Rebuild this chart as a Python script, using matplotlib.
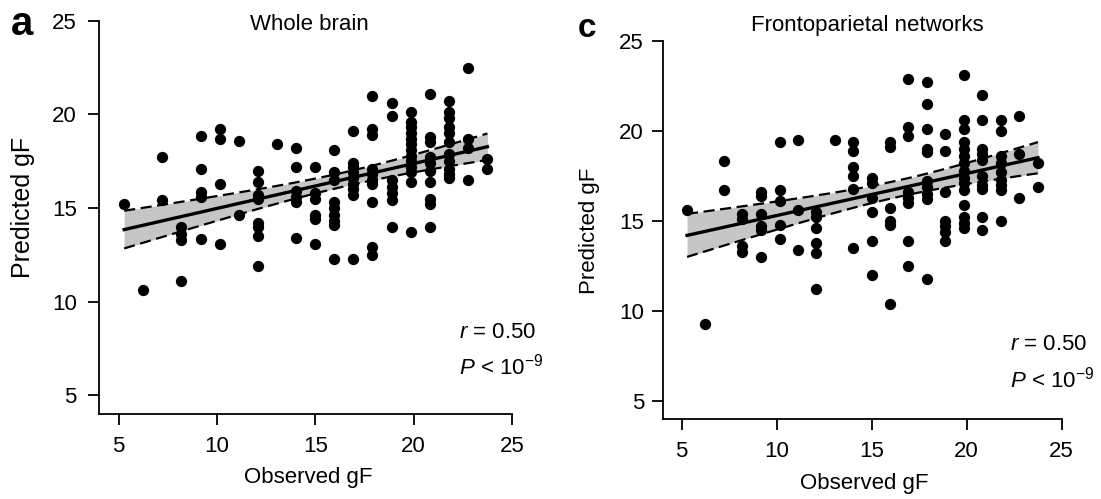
import numpy as np
import matplotlib
matplotlib.use("Agg")
import matplotlib.pyplot as plt

plt.rcParams['font.family'] = ['Liberation Sans', 'DejaVu Sans']
plt.rcParams['mathtext.fontset'] = 'custom'
plt.rcParams['mathtext.rm'] = 'Liberation Sans'
plt.rcParams['mathtext.it'] = 'Liberation Sans:italic'

# observed gF levels (one column of dots per level)
obs_levels = [5.28, 6.24, 7.22, 8.19, 9.18, 10.15, 11.1, 12.07, 13.05, 14.02,
              14.99, 15.95, 16.92, 17.9, 18.88, 19.84, 20.81, 21.79, 22.75, 23.75]

# predicted gF, whole brain model, per observed level
wb_pred = [
    [15.2],
    [10.6],
    [17.7, 15.4],
    [14.0, 13.6, 13.3, 11.1],
    [18.85, 17.1, 15.85, 15.6, 13.35],
    [19.2, 18.7, 16.3, 13.1],
    [18.6, 14.6],
    [17.0, 16.4, 15.7, 15.5, 14.2, 14.0, 13.5, 11.9],
    [18.4],
    [18.2, 17.2, 15.9, 15.6, 15.3, 13.4],
    [17.2, 15.8, 15.5, 14.6, 14.4, 13.1],
    [18.1, 16.9, 16.5, 15.3, 15.0, 14.6, 14.3, 14.1, 12.3],
    [19.1, 17.4, 17.2, 16.9, 16.6, 16.3, 16.0, 15.7, 12.3],
    [21.0, 19.2, 18.9, 17.1, 16.8, 16.5, 16.3, 15.3, 12.9, 12.5],
    [20.6, 19.9, 16.5, 16.1, 15.8, 15.4, 14.0],
    [20.1, 19.6, 19.3, 19.0, 18.7, 18.4, 18.1, 17.8, 17.5, 17.2, 16.9, 16.4, 13.7],
    [21.1, 18.8, 18.5, 17.7, 17.4, 17.0, 16.4, 15.5, 15.2, 14.0],
    [20.7, 20.1, 19.8, 19.3, 19.0, 18.5, 17.9, 17.5, 17.1, 16.8, 16.6],
    [22.5, 18.7, 18.2, 16.5],
    [17.6, 17.1],
]

# predicted gF, frontoparietal networks model
fp_pred = [
    [15.6],
    [9.3],
    [18.3, 16.7],
    [15.4, 15.1, 13.6, 13.3],
    [16.6, 16.4, 15.4, 14.7, 14.5, 13.0],
    [19.4, 16.7, 16.1, 14.8, 14.0],
    [19.5, 15.6, 13.4],
    [15.5, 15.2, 14.6, 13.8, 13.2, 11.2],
    [19.5],
    [19.4, 18.9, 18.0, 17.5, 16.8, 13.5],
    [17.4, 17.1, 16.3, 15.5, 13.9, 12.0],
    [19.4, 19.1, 15.7, 15.0, 14.8, 10.4],
    [22.9, 20.2, 19.7, 16.6, 16.3, 16.0, 13.9, 12.5],
    [22.7, 21.5, 20.1, 19.0, 18.8, 17.2, 16.9, 16.5, 16.2, 11.8],
    [19.8, 18.9, 16.6, 15.0, 14.7, 14.4, 13.9],
    [23.1, 20.6, 20.1, 19.4, 19.0, 18.6, 18.2, 17.8, 17.4, 17.1, 16.7, 15.9, 15.2, 14.9, 14.6],
    [22.0, 20.6, 19.0, 18.7, 18.4, 17.5, 17.0, 16.8, 15.2, 14.5],
    [20.6, 20.0, 18.6, 18.2, 17.7, 17.3, 17.0, 16.7, 15.0],
    [20.8, 18.7, 16.3],
    [18.2, 16.9],
]

ticks = [5, 10, 15, 20, 25]
W, H = 1101, 499


def flatten(pred):
    xs, ys = [], []
    for lev, col in zip(obs_levels, pred):
        xs += [lev] * len(col)
        ys += col
    return np.array(xs), np.array(ys)


def panel(ax, pred, ypad):
    x, y = flatten(pred)
    n = len(x)
    b, a = np.polyfit(x, y, 1)
    xx = np.linspace(x.min(), x.max(), 100)
    fit = a + b * xx
    resid = y - (a + b * x)
    s = np.sqrt(np.sum(resid ** 2) / (n - 2))
    sxx = np.sum((x - x.mean()) ** 2)
    hw = 1.98 * s * np.sqrt(1.0 / n + (xx - x.mean()) ** 2 / sxx)

    ax.fill_between(xx, fit - hw, fit + hw, color='#c6c6c6', lw=0, zorder=1)
    ax.scatter(x, y, s=66, color='black', lw=0, zorder=2)
    ax.plot(xx, fit, color='black', lw=2.4, zorder=3)
    ax.plot(xx, fit + hw, color='black', lw=1.6, ls=(0, (5, 2.5)), zorder=3)
    ax.plot(xx, fit - hw, color='black', lw=1.6, ls=(0, (5, 2.5)), zorder=3)

    ax.set_xlim(4, 25)
    ax.set_ylim(4, 25)
    ax.set_xticks(ticks)
    ax.set_yticks(ticks)
    for sp in ['top', 'right']:
        ax.spines[sp].set_visible(False)
    for sp in ['left', 'bottom']:
        ax.spines[sp].set_linewidth(1.3)
    ax.tick_params(axis='both', length=8, width=1.3, labelsize=16)
    ax.tick_params(axis='x', pad=7.5)
    ax.tick_params(axis='y', pad=ypad)


def px(x, y):
    return x / W, 1 - y / H


fig = plt.figure(figsize=(W / 100, H / 100), dpi=100)
ax1 = fig.add_axes([99 / W, (H - 414) / H, 413 / W, 393.3 / H])
ax2 = fig.add_axes([662.7 / W, (H - 419.3) / H, 399 / W, 378.6 / H])
panel(ax1, wb_pred, 8)
panel(ax2, fp_pred, 5.5)

# panel letters and titles
fig.text(*px(21.7, 24), 'a', fontsize=29, fontweight='bold', ha='center', va='center')
fig.text(*px(587, 28.5), 'c', fontsize=24, fontweight='bold', ha='center', va='center')
fig.text(*px(309, 24), 'Whole brain', fontsize=16, ha='center', va='center')
fig.text(*px(867, 25), 'Frontoparietal networks', fontsize=16, ha='center', va='center')

# axis labels
fig.text(*px(308.6, 478), 'Observed gF', fontsize=16, ha='center', va='center')
fig.text(*px(864, 483), 'Observed gF', fontsize=16, ha='center', va='center')
fig.text(*px(23, 207), 'Predicted gF', fontsize=18, rotation=90, ha='center', va='center')
fig.text(*px(589, 231), 'Predicted gF', fontsize=16, rotation=90, ha='center', va='center')

# statistics
for x0, y0 in [(459, 332), (1010, 345)]:
    fig.text(*px(x0, y0), r'$\mathit{r}$ = 0.50', fontsize=16, ha='left', va='center')
    fig.text(*px(x0, y0 + 35), r'$\mathit{P}$ < 10$^{-9}$', fontsize=16, ha='left', va='center')

fig.savefig('out.png', dpi=100, facecolor='white')
